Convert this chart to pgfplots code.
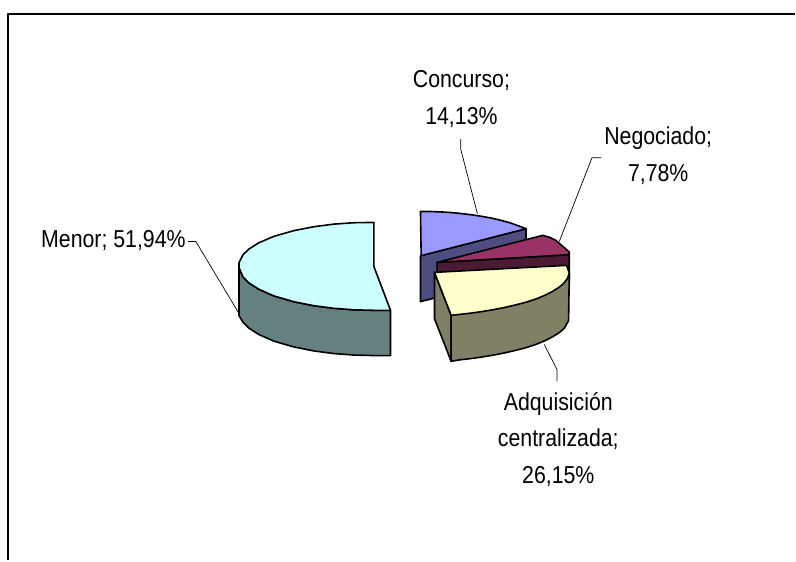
\documentclass[border=0pt]{standalone}
\usepackage{fontspec}
\setmainfont[FakeStretch=0.87]{Liberation Sans}
\usepackage{pgfplots}
\pgfplotsset{compat=1.18}
\definecolor{mt}{HTML}{CCFFFF}\definecolor{ms}{HTML}{668080}
\definecolor{ct}{HTML}{9999FF}\definecolor{cs}{HTML}{4D4D80}
\definecolor{nt}{HTML}{993366}\definecolor{ns}{HTML}{4D1A33}
\definecolor{at}{HTML}{FFFFCC}\definecolor{as}{HTML}{808066}
\begin{document}
\begin{tikzpicture}
\begin{axis}[scale only axis,width=796pt,height=561pt,xmin=0,xmax=796,ymin=0,ymax=561,y dir=reverse,hide axis,clip=false,
  every axis plot post/.append style={line join=round},
  slice/.style={draw=black,line width=1.6pt,mark=none}]
\path (axis cs:0,0) rectangle (axis cs:796,561);
% frame
\addplot[black,line width=2pt,mark=none] coordinates {(8,561)(8,14.5)(796,14.5)};
% leaders
\addplot[black,line width=0.7pt,mark=none] coordinates {(188,241.7)(196,241.7)(240,315)};
\addplot[black,line width=0.7pt,mark=none] coordinates {(461.3,139.3)(461.3,149.3)(478,214)};
\addplot[black,line width=0.7pt,mark=none] coordinates {(602,158)(592.7,158)(560,241.7)};
\addplot[black,line width=0.7pt,mark=none] coordinates {(545,345)(557.7,370)(557.7,381.7)};
% Concurso
\addplot[slice,fill=cs] coordinates {(421,256)(421,302)(526.7,275)(526.7,229)} --cycle;
\addplot[slice,fill=ct] coordinates {(421,211.7)(431.7,211.8)(441.7,212.2)(451.7,212.8)(461.7,213.8)(471.7,215)(481.7,216.5)(491.7,218.3)(501.7,220.6)(511.7,223.4)(526.7,229)(421.7,256)} --cycle;
% Negociado
\addplot[slice,fill=ns] coordinates {(437.7,262.7)(570,255)(570,285)(437.7,285)} --cycle;
\addplot[slice,fill=nt] coordinates {(437.7,262.7)(543.3,235.7)(550,237.5)(556.7,240.7)(561,244.5)(565,248)(570,252.3)(570,255)} --cycle;
% Adquisicion
\addplot[slice,fill=as] coordinates {(435,272.7)(435,319)(451.7,361.7)(451.7,315.7)} --cycle;
\addplot[slice,fill=as] coordinates {(451.7,315.7)(451.7,361.7)(461,360.2)(470,359.2)(481,357.7)(493.3,355.7)(505,353.4)(516.7,350.7)(527,348)(536.7,344.8)(545,341.4)(553.3,337.2)(560,333)(565,328.7)(569.3,321)(570,273.3)} --cycle;
\addplot[slice,fill=at] coordinates {(435,272.7)(567.3,265.7)(570,273.3)(568.5,278)(565,283.2)(560,287.5)(553.3,291.7)(545,295.9)(536.7,299.3)(527,302.5)(516.7,305.2)(505,307.9)(493.3,310.2)(481,312.2)(470,313.7)(461,314.7)(451.7,315.7)} --cycle;
% Menor
\addplot[slice,fill=ms] coordinates {(239.3,268)(239.3,316)(243.3,322.6)(249.3,328.6)(259.3,335)(274.3,341.6)(294.3,347.4)(314.3,351.4)(334.3,354)(354.3,355.5)(374.3,356)(391,356)(391,310.7)(374.3,310.7)(354.3,310.2)(334.3,308.7)(314.3,306.1)(294.3,302.1)(274.3,296.3)(259.3,289.7)(249.3,283.3)(243.3,277.3)} --cycle;
\addplot[slice,fill=mt] coordinates {(374.3,222.7)(354.3,223)(334.3,224.4)(314.3,227)(294.3,230.9)(274.3,236.6)(259.3,243)(249.3,249.3)(243.3,255.1)(239.3,263)(239.3,268)(243.3,277.3)(249.3,283.3)(259.3,289.7)(274.3,296.3)(294.3,302.1)(314.3,306.1)(334.3,308.7)(354.3,310.2)(374.3,310.7)(391,310.7)(374.3,266.7)} --cycle;
% labels
\tikzset{lab/.style={align=center,font=\fontsize{24.5pt}{36.5pt}\selectfont,inner sep=0pt,text=black}}
\node[lab,anchor=east] at (axis cs:186,241) {Menor; 51,94\%};
\node[lab] at (axis cs:462,99) {Concurso;\\14,13\%};
\node[lab] at (axis cs:659,156) {Negociado;\\7,78\%};
\node[lab] at (axis cs:559,440) {Adquisición\\centralizada;\\26,15\%};
\end{axis}
\end{tikzpicture}
\end{document}
